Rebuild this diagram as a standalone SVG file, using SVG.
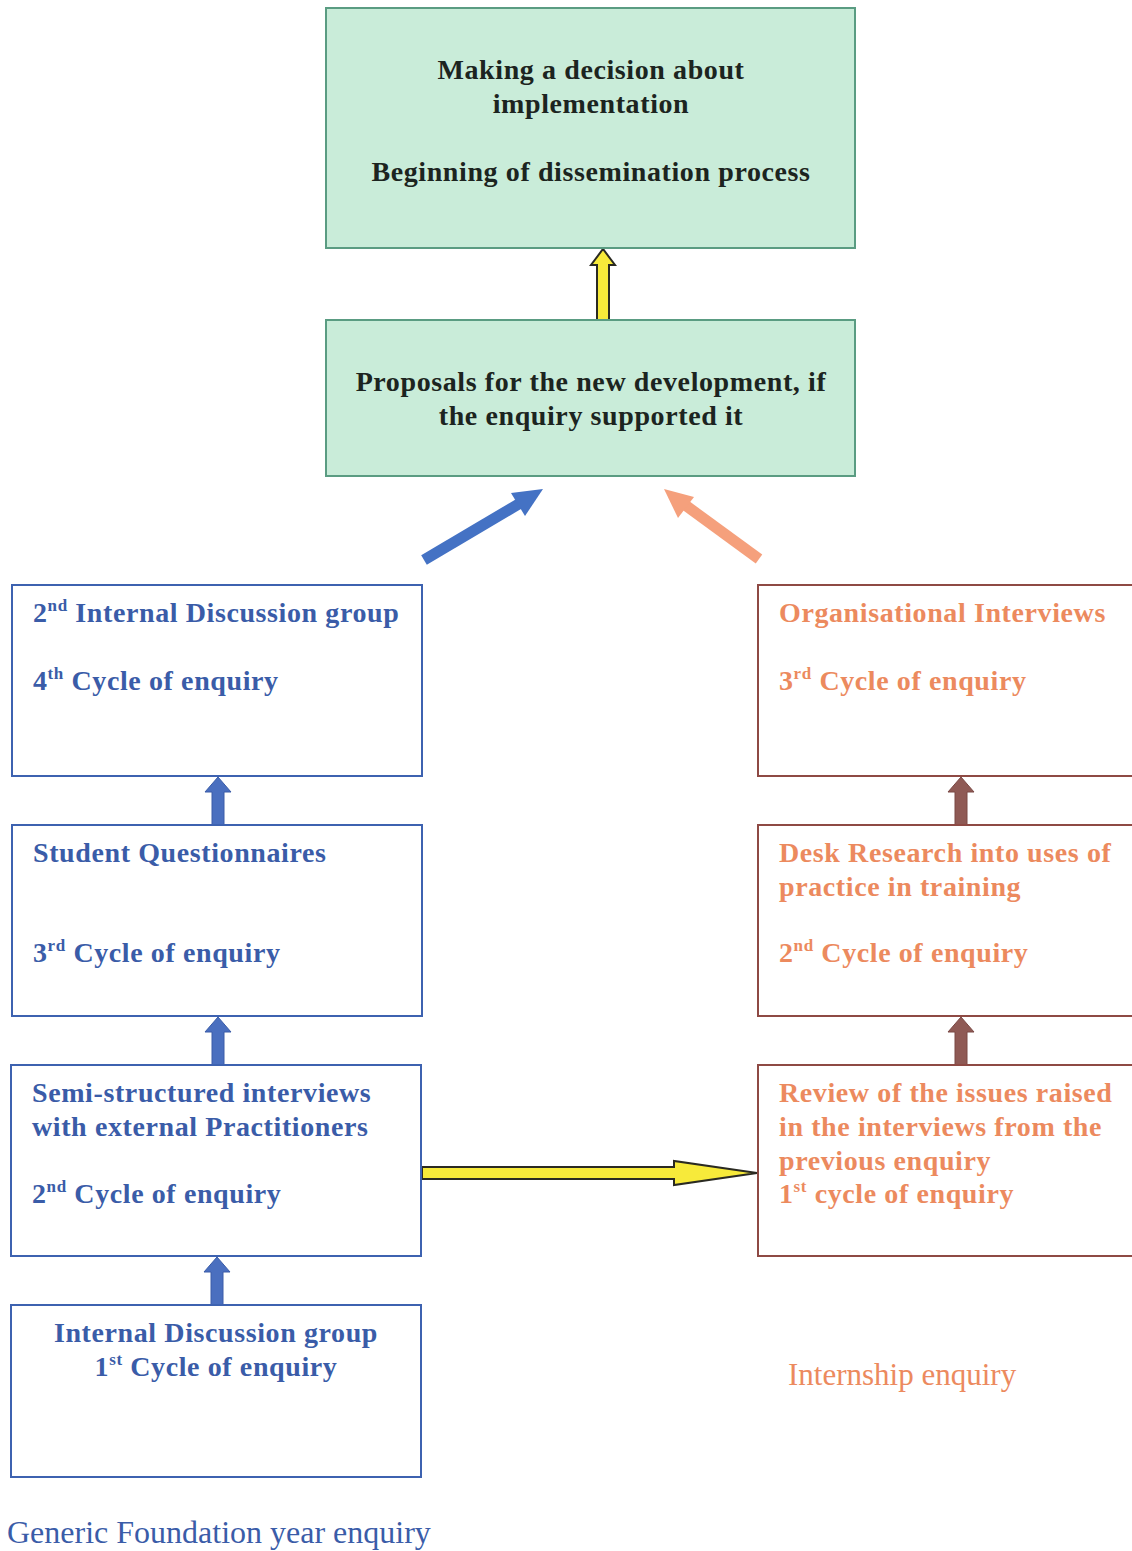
<svg xmlns="http://www.w3.org/2000/svg" width="1132" height="1551" viewBox="0 0 1132 1551">
  <style>
    .green { fill: #c9ecd9; stroke: #5a9c82; stroke-width: 2; }
    .bluebox { fill: #ffffff; stroke: #3d62b0; stroke-width: 2; }
    .redbox { fill: #ffffff; stroke: #8e4a44; stroke-width: 2; }
    text { font-family: "Liberation Serif", "Times New Roman", serif; }
    .dark { font-size: 28px; font-weight: bold; fill: #1c2420; letter-spacing: 0.6px; }
    .blue { font-size: 28px; font-weight: bold; fill: #3a5ca8; letter-spacing: 0.6px; }
    .sal { font-size: 28px; font-weight: bold; fill: #ec8a5e; letter-spacing: 0.6px; }
    .sup { font-size: 17px; }
    .caption-b { font-size: 32px; fill: #3a5ca8; }
    .caption-s { font-size: 31px; fill: #ec8a5e; }
    .yarrow { fill: #f7ea3a; stroke: #2a2a22; stroke-width: 2; }
    .barrow { fill: #4a6fbf; stroke: #3a5ca8; stroke-width: 1; }
    .rarrow { fill: #8f5a55; stroke: #7a4844; stroke-width: 1; }
  </style>

  <!-- connectors -->
  <g id="connectors">
    <!-- proposals up to decision -->
    <polygon class="yarrow" points="597,320 597,265 591,265 603,249 615,265 609,265 609,320"/>
    <!-- foundation-year stream into proposals -->
    <line x1="424" y1="560" x2="522" y2="502" stroke="#4472c4" stroke-width="11"/>
    <polygon points="543,489 511,493 525,516" fill="#4472c4"/>
    <!-- internship stream into proposals -->
    <line x1="759" y1="559" x2="681" y2="502" stroke="#f5a07c" stroke-width="11"/>
    <polygon points="664,489 694,497 678,518" fill="#f5a07c"/>
    <!-- left column block arrows -->
    <polygon class="barrow" points="212,825 212,792 205,792 218,777 231,792 224,792 224,825"/>
    <polygon class="barrow" points="212,1065 212,1032 205,1032 218,1017 231,1032 224,1032 224,1065"/>
    <polygon class="barrow" points="211,1305 211,1272 204,1272 217,1257 230,1272 223,1272 223,1305"/>
    <!-- right column block arrows -->
    <polygon class="rarrow" points="955,825 955,792 948,792 961,777 974,792 967,792 967,825"/>
    <polygon class="rarrow" points="955,1065 955,1032 948,1032 961,1017 974,1032 967,1032 967,1065"/>
    <!-- across to internship stream -->
    <polygon class="yarrow" points="422,1167 674,1167 674,1161 757,1173 674,1185 674,1179 422,1179"/>
  </g>

  <!-- top decision box -->
  <g id="decision">
    <rect class="green" x="326" y="8" width="529" height="240"/>
    <text class="dark" x="591" y="79" text-anchor="middle">Making a decision about</text>
    <text class="dark" x="591" y="113" text-anchor="middle">implementation</text>
    <text class="dark" x="591" y="181" text-anchor="middle">Beginning of dissemination process</text>
  </g>

  <g id="proposals">
    <rect class="green" x="326" y="320" width="529" height="156"/>
    <text class="dark" x="591" y="391" text-anchor="middle">Proposals for the new development, if</text>
    <text class="dark" x="591" y="425" text-anchor="middle">the enquiry supported it</text>
  </g>

  <!-- Generic Foundation year stream -->
  <g id="fy-cycle4">
    <rect class="bluebox" x="12" y="585" width="410" height="191"/>
    <text class="blue" x="33" y="622">2<tspan class="sup" dy="-11">nd</tspan><tspan dy="11"> Internal Discussion group</tspan></text>
    <text class="blue" x="33" y="690">4<tspan class="sup" dy="-11">th</tspan><tspan dy="11"> Cycle of enquiry</tspan></text>
  </g>

  <g id="fy-cycle3">
    <rect class="bluebox" x="12" y="825" width="410" height="191"/>
    <text class="blue" x="33" y="862">Student Questionnaires</text>
    <text class="blue" x="33" y="962">3<tspan class="sup" dy="-11">rd</tspan><tspan dy="11"> Cycle of enquiry</tspan></text>
  </g>

  <g id="fy-cycle2">
    <rect class="bluebox" x="11" y="1065" width="410" height="191"/>
    <text class="blue" x="32" y="1102">Semi-structured interviews</text>
    <text class="blue" x="32" y="1136">with external Practitioners</text>
    <text class="blue" x="32" y="1203">2<tspan class="sup" dy="-11">nd</tspan><tspan dy="11"> Cycle of enquiry</tspan></text>
  </g>

  <g id="fy-cycle1">
    <rect class="bluebox" x="11" y="1305" width="410" height="172"/>
    <text class="blue" x="216" y="1342" text-anchor="middle">Internal Discussion group</text>
    <text class="blue" x="216" y="1376" text-anchor="middle">1<tspan class="sup" dy="-11">st</tspan><tspan dy="11"> Cycle of enquiry</tspan></text>
  </g>

  <g id="fy-caption">
    <text class="caption-b" x="7" y="1543">Generic Foundation year enquiry</text>
  </g>

  <!-- Internship stream -->
  <g id="in-cycle3">
    <rect class="redbox" x="758" y="585" width="380" height="191"/>
    <text class="sal" x="779" y="622">Organisational Interviews</text>
    <text class="sal" x="779" y="690">3<tspan class="sup" dy="-11">rd</tspan><tspan dy="11"> Cycle of enquiry</tspan></text>
  </g>

  <g id="in-cycle2">
    <rect class="redbox" x="758" y="825" width="380" height="191"/>
    <text class="sal" x="779" y="862">Desk Research into uses of</text>
    <text class="sal" x="779" y="896">practice in training</text>
    <text class="sal" x="779" y="962">2<tspan class="sup" dy="-11">nd</tspan><tspan dy="11"> Cycle of enquiry</tspan></text>
  </g>

  <g id="in-cycle1">
    <rect class="redbox" x="758" y="1065" width="380" height="191"/>
    <text class="sal" x="779" y="1102">Review of the issues raised</text>
    <text class="sal" x="779" y="1136">in the interviews from the</text>
    <text class="sal" x="779" y="1170">previous enquiry</text>
    <text class="sal" x="779" y="1203">1<tspan class="sup" dy="-11">st</tspan><tspan dy="11"> cycle of enquiry</tspan></text>
  </g>

  <g id="in-caption">
    <text class="caption-s" x="788" y="1385">Internship enquiry</text>
  </g>
</svg>
